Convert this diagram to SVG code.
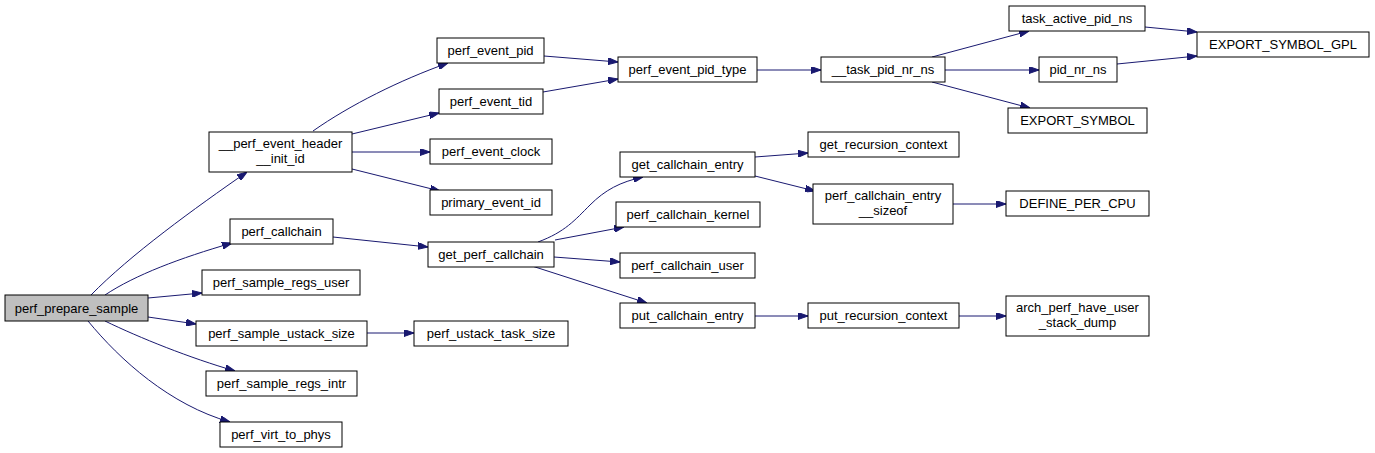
<svg xmlns="http://www.w3.org/2000/svg" width="1375" height="453" viewBox="0 0 1375 453">
<style>
.n rect{fill:#fff;stroke:#000;stroke-width:1}
.n text{font-family:"Liberation Sans",Arial,sans-serif;font-size:13px;fill:#000;text-anchor:middle}
.e path{fill:none;stroke:#191970;stroke-width:1;marker-end:url(#ah)}
</style>
<defs>
<marker id="ah" viewBox="0 0 10 7" refX="10" refY="3.5" markerWidth="10" markerHeight="7" markerUnits="userSpaceOnUse" orient="auto">
<path d="M0,0 L10,3.5 L0,7 z" fill="#191970" stroke="#191970"/>
</marker>
</defs>
<rect width="1375" height="453" fill="#fff"/>
<g class="e">
<path d="M91,295 C130,255 195,208 247,172"/>
<path d="M105,295 C135,275 180,258 232,243"/>
<path d="M148,298 L202,293"/>
<path d="M148,317 L196,324"/>
<path d="M105,321 C140,338 190,358 235,371"/>
<path d="M88,321 C120,360 170,405 230,422"/>
<path d="M313,131 C350,105 400,80 448,63"/>
<path d="M352,134 L439,113"/>
<path d="M352,152 L430,152"/>
<path d="M352,169 L440,191"/>
<path d="M544,56 L618,62"/>
<path d="M543,92 L618,79"/>
<path d="M757,70 L821,70"/>
<path d="M932,57 L1029,31"/>
<path d="M945,70 L1039,70"/>
<path d="M932,82 L1030,108"/>
<path d="M1145,27 L1197,32"/>
<path d="M1117,64 L1197,56"/>
<path d="M333,237 L428,247"/>
<path d="M367,333 L414,333"/>
<path d="M538,242 C565,232 575,220 590,205 C605,190 620,182 643,177"/>
<path d="M555,240 L624,227"/>
<path d="M554,257 L620,262"/>
<path d="M532,266 L647,303"/>
<path d="M755,157 L808,153"/>
<path d="M755,176 L815,191"/>
<path d="M953,204 L1006,204"/>
<path d="M755,316 L808,316"/>
<path d="M959,316 L1006,316"/>
</g>
<g id="perf_prepare_sample" class="n"><rect x="5" y="295" width="143" height="26" style="fill:#bfbfbf"/><text x="76.5" y="312.5">perf_prepare_sample</text></g>
<g id="perf_sample_regs_user" class="n"><rect x="202" y="270" width="158" height="25"/><text x="281" y="287">perf_sample_regs_user</text></g>
<g id="perf_sample_ustack_size" class="n"><rect x="196" y="321" width="171" height="25"/><text x="281.5" y="338">perf_sample_ustack_size</text></g>
<g id="perf_sample_regs_intr" class="n"><rect x="206" y="371" width="151" height="25"/><text x="281.5" y="388">perf_sample_regs_intr</text></g>
<g id="perf_virt_to_phys" class="n"><rect x="220" y="422" width="122" height="25"/><text x="281" y="439">perf_virt_to_phys</text></g>
<g id="perf_event_header_init_id" class="n"><rect x="209" y="132" width="143" height="40"/><text x="280.5" y="148">__perf_event_header</text><text x="280.5" y="163">__init_id</text></g>
<g id="perf_event_pid" class="n"><rect x="437" y="38" width="107" height="25"/><text x="490.5" y="55">perf_event_pid</text></g>
<g id="perf_event_tid" class="n"><rect x="439" y="89" width="104" height="25"/><text x="491" y="106">perf_event_tid</text></g>
<g id="perf_event_clock" class="n"><rect x="430" y="139" width="122" height="25"/><text x="491" y="156">perf_event_clock</text></g>
<g id="primary_event_id" class="n"><rect x="430" y="190" width="122" height="25"/><text x="491" y="207">primary_event_id</text></g>
<g id="perf_callchain" class="n"><rect x="230" y="219" width="103" height="25"/><text x="281.5" y="236">perf_callchain</text></g>
<g id="get_perf_callchain" class="n"><rect x="428" y="242" width="126" height="25"/><text x="491" y="259">get_perf_callchain</text></g>
<g id="perf_ustack_task_size" class="n"><rect x="414" y="321" width="154" height="25"/><text x="491" y="338">perf_ustack_task_size</text></g>
<g id="get_callchain_entry" class="n"><rect x="620" y="152" width="135" height="25"/><text x="687.5" y="169">get_callchain_entry</text></g>
<g id="perf_callchain_kernel" class="n"><rect x="616" y="202" width="144" height="25"/><text x="688" y="219">perf_callchain_kernel</text></g>
<g id="perf_callchain_user" class="n"><rect x="620" y="253" width="135" height="25"/><text x="687.5" y="270">perf_callchain_user</text></g>
<g id="put_callchain_entry" class="n"><rect x="620" y="303" width="135" height="25"/><text x="687.5" y="320">put_callchain_entry</text></g>
<g id="perf_event_pid_type" class="n"><rect x="618" y="57" width="139" height="25"/><text x="687.5" y="74">perf_event_pid_type</text></g>
<g id="task_pid_nr_ns" class="n"><rect x="821" y="57" width="124" height="25"/><text x="883" y="74">__task_pid_nr_ns</text></g>
<g id="get_recursion_context" class="n"><rect x="808" y="132" width="151" height="25"/><text x="883.5" y="149">get_recursion_context</text></g>
<g id="perf_callchain_entry_sizeof" class="n"><rect x="813" y="184" width="140" height="40"/><text x="883" y="200">perf_callchain_entry</text><text x="883" y="215">__sizeof</text></g>
<g id="put_recursion_context" class="n"><rect x="808" y="303" width="151" height="25"/><text x="883.5" y="320">put_recursion_context</text></g>
<g id="DEFINE_PER_CPU" class="n"><rect x="1006" y="191" width="143" height="25"/><text x="1077.5" y="208">DEFINE_PER_CPU</text></g>
<g id="arch_perf_have_user_stack_dump" class="n"><rect x="1006" y="296" width="143" height="40"/><text x="1077.5" y="312">arch_perf_have_user</text><text x="1077.5" y="327">_stack_dump</text></g>
<g id="task_active_pid_ns" class="n"><rect x="1009" y="6" width="136" height="25"/><text x="1077" y="23">task_active_pid_ns</text></g>
<g id="pid_nr_ns" class="n"><rect x="1039" y="57" width="78" height="25"/><text x="1078" y="74">pid_nr_ns</text></g>
<g id="EXPORT_SYMBOL" class="n"><rect x="1008" y="108" width="139" height="25"/><text x="1077.5" y="125">EXPORT_SYMBOL</text></g>
<g id="EXPORT_SYMBOL_GPL" class="n"><rect x="1197" y="32" width="172" height="25"/><text x="1283" y="49">EXPORT_SYMBOL_GPL</text></g>
</svg>
